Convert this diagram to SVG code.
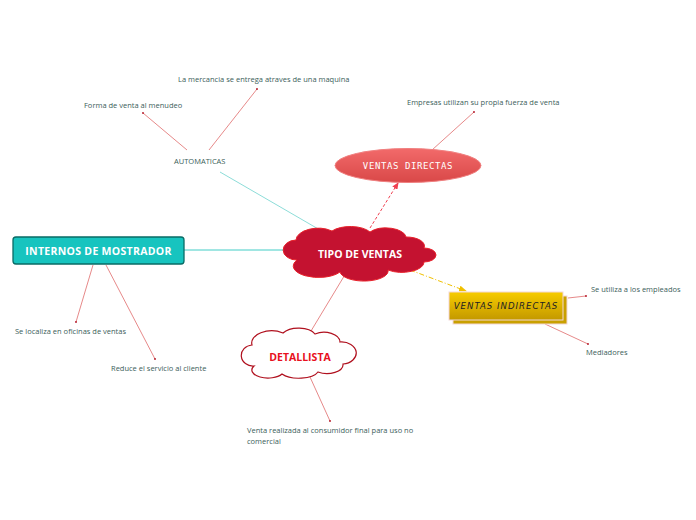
<svg xmlns="http://www.w3.org/2000/svg" width="696" height="520" viewBox="0 0 696 520">
<defs>
<style>
.leaf{font-family:"Open Sans","Liberation Sans",sans-serif;font-size:7.5px;fill:#3b5e5a}
.red{stroke:#e06b6b;stroke-width:0.8;fill:none}
.dot{fill:#b01020}
</style>
<linearGradient id="gold" x1="0" y1="0" x2="0" y2="1"><stop offset="0" stop-color="#f7cc00"/><stop offset="1" stop-color="#c39800"/></linearGradient>
<linearGradient id="pink" x1="0" y1="0" x2="0" y2="1"><stop offset="0" stop-color="#f26a6a"/><stop offset="1" stop-color="#d94848"/></linearGradient>
<marker id="ya" markerWidth="8" markerHeight="6" refX="7" refY="3" orient="auto" markerUnits="userSpaceOnUse"><path d="M0,0 L8,3 L0,6 z" fill="#f0c000"/></marker>
<marker id="ra" markerWidth="7" markerHeight="6" refX="6" refY="3" orient="auto" markerUnits="userSpaceOnUse"><path d="M0,0 L7,3 L0,6 z" fill="#f04050"/></marker>
</defs>
<rect width="696" height="520" fill="#ffffff"/>
<g id="connectors">
<line x1="220" y1="172" x2="320" y2="230" stroke="#7fd8d4" stroke-width="0.9"/>
<line x1="184" y1="250" x2="292" y2="250" stroke="#2cc7c0" stroke-width="0.9"/>
<line x1="370" y1="228" x2="398" y2="183" stroke="#f04050" stroke-width="1" stroke-dasharray="3,2" marker-end="url(#ra)"/>
<line x1="410" y1="270" x2="466" y2="291" stroke="#f0c000" stroke-width="1" stroke-dasharray="5,2,1,2" marker-end="url(#ya)"/>
<line x1="346" y1="273" x2="311" y2="331" class="red"/>
<line class="red" x1="187" y1="150" x2="143" y2="113"/><circle class="dot" cx="143" cy="113" r="0.9"/>
<line class="red" x1="209" y1="150" x2="257" y2="89"/><circle class="dot" cx="257" cy="89" r="0.9"/>
<line class="red" x1="432" y1="150" x2="474" y2="112"/><circle class="dot" cx="474" cy="112" r="0.9"/>
<line class="red" x1="568" y1="298" x2="586" y2="296"/><circle class="dot" cx="586" cy="296" r="0.9"/>
<line class="red" x1="545" y1="324" x2="588" y2="344"/><circle class="dot" cx="588" cy="344" r="0.9"/>
<line class="red" x1="93" y1="265" x2="76" y2="322"/><circle class="dot" cx="76" cy="322" r="0.9"/>
<line class="red" x1="106" y1="265" x2="155" y2="359"/><circle class="dot" cx="155" cy="359" r="0.9"/>
<line class="red" x1="310" y1="377" x2="330" y2="421"/><circle class="dot" cx="330" cy="421" r="0.9"/>
</g>
<g id="tipo">
<path d="M297,260 A12,9 0 0 1 296,240 A22,12 0 0 1 332,231 A22,10 0 0 1 370,232 A20,10 0 0 1 406,237 A18,9 0 0 1 424,248 A12,7 0 0 1 424,262 A22,10 0 0 1 388,270 A24,10 0 0 1 340,272 A22,10 0 0 1 297,260 Z" fill="#c41230" stroke="#e8202a" stroke-width="1"/>
<text x="360" y="258" text-anchor="middle" font-family="Open Sans, Liberation Sans, sans-serif" font-weight="bold" font-size="10.5" fill="#ffffff">TIPO DE VENTAS</text>
</g>
<g id="directas">
<ellipse cx="408" cy="165.5" rx="73" ry="17" fill="url(#pink)" stroke="#f08080" stroke-width="1"/>
<text x="408" y="169" text-anchor="middle" font-family="DejaVu Sans Mono, Liberation Mono, monospace" font-size="9" letter-spacing="0.6" fill="#ffffff">VENTAS DIRECTAS</text>
</g>
<g id="indirectas">
<rect x="453" y="296" width="114" height="28" fill="#c9a000" stroke="#f3d8d8" stroke-width="1"/>
<rect x="449" y="292" width="114" height="28" fill="url(#gold)" stroke="#f3d8d8" stroke-width="1"/>
<text x="506" y="309" text-anchor="middle" font-family="DejaVu Sans, sans-serif" font-style="italic" font-size="8.6" letter-spacing="1" fill="#222222">VENTAS INDIRECTAS</text>
</g>
<g id="detallista">
<path d="M254,366 A10,9 0 0 1 252,345 A20,12 0 0 1 283,333 A18,10 0 0 1 315,334 A16,10 0 0 1 340,342 A12,9 0 0 1 343,364 A16,9 0 0 1 318,372 A20,9 0 0 1 282,374 A16,8 0 0 1 254,366 Z" fill="#ffffff" stroke="#b0101e" stroke-width="1.2"/>
<text x="300" y="361" text-anchor="middle" font-family="Open Sans, Liberation Sans, sans-serif" font-weight="bold" font-size="10.5" fill="#e81020">DETALLISTA</text>
</g>
<g id="internos">
<rect x="13" y="237" width="171" height="27" rx="3" fill="#17c4bf" stroke="#0a6b66" stroke-width="1.3"/>
<text x="98.5" y="255" text-anchor="middle" font-family="Open Sans, Liberation Sans, sans-serif" font-weight="bold" font-size="10.5" letter-spacing="0.3" fill="#ffffff">INTERNOS DE MOSTRADOR</text>
</g>
<g id="automaticas"><text class="leaf" x="174" y="164">AUTOMATICAS</text></g>
<g id="leaf-menudeo"><text class="leaf" x="84" y="108">Forma de venta al menudeo</text></g>
<g id="leaf-maquina"><text class="leaf" x="178" y="82">La mercancia se entrega atraves de una maquina</text></g>
<g id="leaf-empresas"><text class="leaf" x="407" y="105">Empresas utilizan su propia fuerza de venta</text></g>
<g id="leaf-empleados"><text class="leaf" x="591" y="292">Se utiliza a los empleados</text></g>
<g id="leaf-mediadores"><text class="leaf" x="586" y="355">Mediadores</text></g>
<g id="leaf-oficinas"><text class="leaf" x="15" y="334">Se localiza en oficinas de ventas</text></g>
<g id="leaf-cliente"><text class="leaf" x="111" y="371">Reduce el servicio al cliente</text></g>
<g id="leaf-venta"><text class="leaf" x="247" y="433">Venta realizada al consumidor final para uso no</text><text class="leaf" x="247" y="444">comercial</text></g>
</svg>
